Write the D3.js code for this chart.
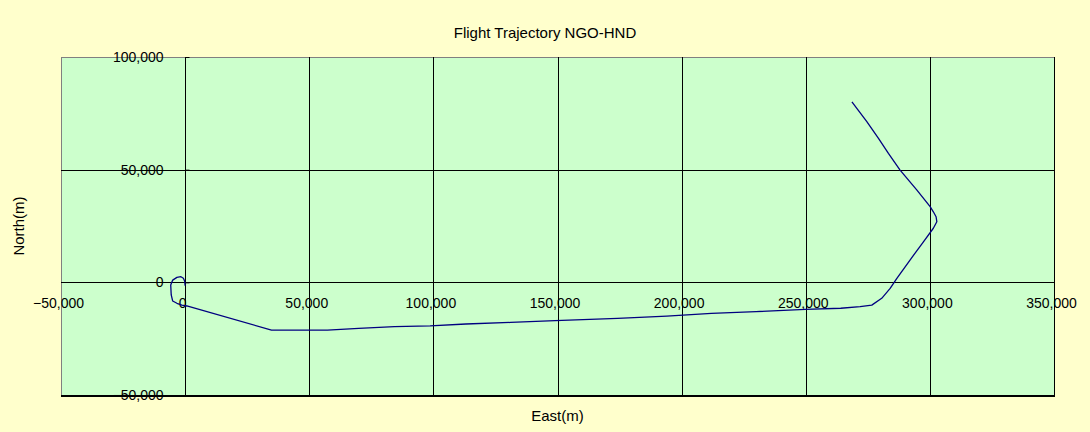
<!DOCTYPE html>
<html>
<head>
<meta charset="utf-8">
<script src="https://cdn.jsdelivr.net/npm/d3@7"></script>
<style>
    body { margin: 0; background: #ffffcc; }
    svg { display: block; font-family: "Liberation Sans", Arial, sans-serif; }
</style>
</head>
<body>
<svg></svg>
<script>
// trajectory samples, metres east / north of the origin
const eastM = [0, -200, -700, -1700, -3300, -5000, -5800, -5600, -5000, -3300, -1300, 700,
    34800, 57300, 69900, 84300, 98700, 113100, 131100, 149000, 174200, 194000, 212000,
    230000, 249800, 264100, 271900, 276600, 280600, 284000, 286700, 292000, 297400,
    301400, 302800, 302500, 301400, 300100, 294700, 288000, 283300, 279300, 274600, 268600];
const northM = [-1500, 600, 1800, 2500, 2200, 1000, -1200, -5600, -8300, -9300, -10100, -10500,
    -21200, -21200, -20400, -19700, -19300, -18500, -17800, -17000, -16000, -15000, -13800,
    -13000, -12000, -11500, -10800, -10100, -7100, -2700, 1800, 9900, 18000,
    24000, 26900, 29100, 31300, 33600, 41000, 49800, 57200, 63900, 71300, 80100];

const xTicks = [-50000, 0, 50000, 100000, 150000, 200000, 250000, 300000, 350000];
const yTicks = [-50000, 0, 50000, 100000];

const chartTitle = "Flight Trajectory NGO-HND";
const xTitle = "East(m)";
const yTitle = "North(m)";

const width = 1090, height = 432;
const plot = {left: 61, right: 1054, top: 57, bottom: 395};

const svg = d3.select("svg").attr("width", width).attr("height", height);

svg.append("rect")
    .attr("width", width).attr("height", height)
    .attr("fill", "#ffffcc");

const x = d3.scaleLinear().domain([-50000, 350000]).range([plot.left, plot.right]);
const y = d3.scaleLinear().domain([-50000, 100000]).range([plot.bottom, plot.top]);

// plot area
svg.append("rect")
    .attr("x", plot.left + 0.5).attr("y", plot.top + 0.5)
    .attr("width", plot.right - plot.left).attr("height", plot.bottom - plot.top)
    .attr("fill", "#ccffcc")
    .attr("stroke", "#808080");

// grid lines
const grid = svg.append("g").attr("stroke", "#000").attr("stroke-width", 1);
grid.selectAll(".vx")
    .data(xTicks.filter(d => d > -50000 && d < 350000))
    .join("line")
    .attr("x1", d => Math.round(x(d)) + 0.5).attr("x2", d => Math.round(x(d)) + 0.5)
    .attr("y1", plot.top).attr("y2", plot.bottom);
grid.selectAll(".hy")
    .data(yTicks.filter(d => d > -50000 && d < 100000))
    .join("line")
    .attr("x1", plot.left).attr("x2", plot.right)
    .attr("y1", d => Math.round(y(d)) + 0.5).attr("y2", d => Math.round(y(d)) + 0.5);

// right and bottom edges are darker
svg.append("line")
    .attr("x1", plot.right + 0.5).attr("x2", plot.right + 0.5)
    .attr("y1", plot.top).attr("y2", plot.bottom + 1)
    .attr("stroke", "#000");
svg.append("line")
    .attr("x1", plot.left).attr("x2", plot.right + 1)
    .attr("y1", plot.bottom + 1).attr("y2", plot.bottom + 1)
    .attr("stroke", "#000").attr("stroke-width", 2);

// axes cross at zero
const fmt = d3.format(",");
const xAxis = svg.append("g")
    .attr("transform", `translate(-3,${Math.round(y(0)) + 0.5})`)
    .call(d3.axisBottom(x).tickValues(xTicks).tickFormat(fmt).tickSize(0).tickPadding(16));
const yAxis = svg.append("g")
    .attr("transform", `translate(${Math.round(x(0)) + 0.5},0)`)
    .call(d3.axisLeft(y).tickValues(yTicks).tickFormat(fmt).tickSizeInner(-4).tickSizeOuter(0).tickPadding(22));

[xAxis, yAxis].forEach(a => {
    a.select(".domain").remove();
    a.selectAll("text").attr("font-size", 14).attr("fill", "#000")
        .attr("font-family", "'Liberation Sans', Arial, sans-serif");
    a.selectAll("line").attr("stroke", "#000");
});

// trajectory
const pts = eastM.map((e, i) => [e, northM[i]]);
const line = d3.line()
    .x(d => x(d[0]))
    .y(d => y(d[1]));

svg.append("path")
    .attr("d", line(pts))
    .attr("fill", "none")
    .attr("stroke", "#000080")
    .attr("stroke-width", 1.3)
    .attr("stroke-linejoin", "round");

// titles
svg.append("text")
    .attr("x", 545).attr("y", 38)
    .attr("text-anchor", "middle")
    .attr("font-size", 15)
    .text(chartTitle);

svg.append("text")
    .attr("x", (plot.left + plot.right) / 2).attr("y", 421)
    .attr("text-anchor", "middle")
    .attr("font-size", 15)
    .text(xTitle);

svg.append("text")
    .attr("transform", `translate(24,${(plot.top + plot.bottom) / 2}) rotate(-90)`)
    .attr("text-anchor", "middle")
    .attr("font-size", 15)
    .text(yTitle);
</script>
</body>
</html>
